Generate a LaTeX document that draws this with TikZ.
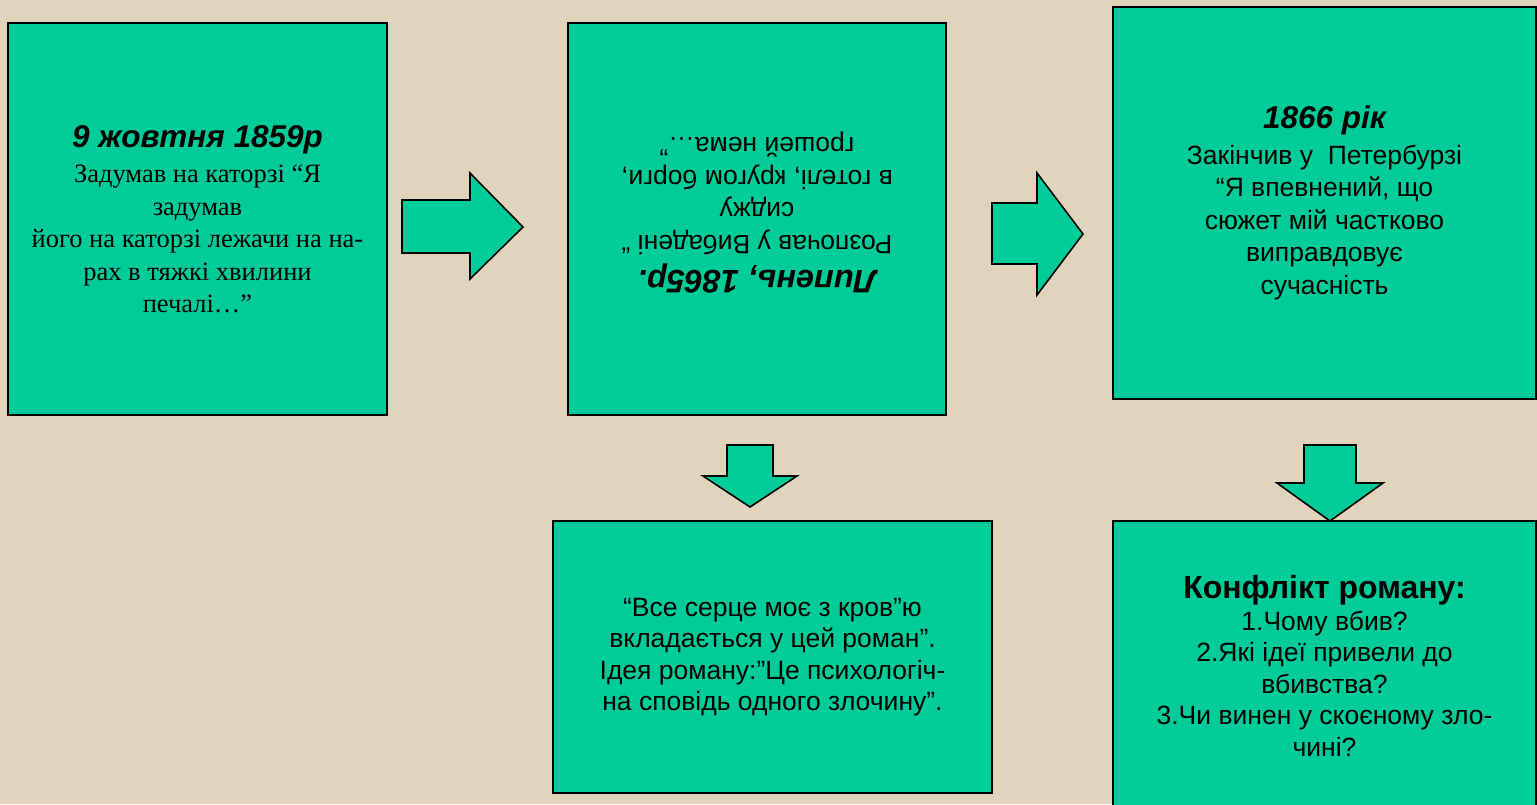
\documentclass[tikz,border=0pt]{standalone}
\usepackage{fontspec}
\setmainfont{Liberation Sans}
\newfontfamily\serifbody{Liberation Serif}
\usepackage{tikz}
\usepackage{xcolor}
\definecolor{paper}{RGB}{224,212,188}
\definecolor{boxgreen}{RGB}{0,204,153}

\begin{document}
\begin{tikzpicture}[x=1pt, y=-1pt,
      card/.style = {draw=black, line width=1.6pt, fill=boxgreen, inner sep=0pt, align=center,
                     font=\fontsize{26.5}{32.5}\selectfont},
      blockarrow/.style = {draw=black, line width=1.6pt, fill=boxgreen, line join=miter}]
      \useasboundingbox (0,0) rectangle (1537,804);
      \fill[paper] (0,0) rectangle (1537,804);

      \node[card, minimum width=379, minimum height=392,
            font=\serifbody\fontsize{26.5}{32.5}\selectfont] (b_1) at (197.5,219)
            {{\normalfont\fontsize{31.5}{32}\selectfont\bfseries\itshape 9 жовтня 1859р}\\[3pt]
             Задумав на каторзі “Я\\
             задумав\\
             його на каторзі лежачи на на-\\
             рах в тяжкі хвилини\\
             печалі…”};
      \node[card, minimum width=378, minimum height=392] (b_2) at (757,219) {};
      \node[align=center, inner sep=0pt, rotate=180, font=\fontsize{26.5}{32.5}\selectfont] (t_2) at (b_2.center)
            [yshift=-6pt]
            {{\fontsize{32.5}{32}\selectfont\bfseries\itshape Липень, 1865р.}\\[3pt]
             Розпочав у Вибадені “\\
             сиджу\\
             в готелі, кругом борги,\\
             грошей нема…”};
      \node[card, minimum width=423, minimum height=392] (b_3) at (1324.5,203)
            {{\fontsize{31.5}{32}\selectfont\bfseries\itshape 1866 рік}\\[3pt]
             Закінчив у\ \ Петербурзі\\
             “Я впевнений, що\\
             сюжет мій частково\\
             виправдовує\\
             сучасність};
      \node[card, minimum width=439, minimum height=272,
            font=\fontsize{26.5}{31.5}\selectfont] (b_4) at (772.5,657)
            {“Все серце моє з кров”ю\\
             вкладається у цей роман”.\\
             Ідея роману:”Це психологіч-\\
             на сповідь одного злочину”.};
      \node[card, minimum width=423, minimum height=290,
            font=\fontsize{26.5}{31.5}\selectfont] (b_5) at (1324.5,666)
            {{\fontsize{32}{32}\selectfont\bfseries Конфлікт роману:}\\
             1.Чому вбив?\\
             2.Які ідеї привели до\\
             вбивства?\\
             3.Чи винен у скоєному зло-\\
             чині?};

      \draw[blockarrow] (402,200) -- (470,200) -- (470,173) -- (523,227) -- (470,279) -- (470,253) -- (402,253) -- cycle;
      \draw[blockarrow] (992,203) -- (1037,203) -- (1037,173) -- (1083,234) -- (1037,295) -- (1037,264) -- (992,264) -- cycle;
      \draw[blockarrow] (727,445) -- (773,445) -- (773,476) -- (797,476) -- (750,507) -- (703,476) -- (727,476) -- cycle;
      \draw[blockarrow] (1304,445) -- (1356,445) -- (1356,483) -- (1383,483) -- (1330,521) -- (1277,483) -- (1304,483) -- cycle;
    \end{tikzpicture}
\end{document}
